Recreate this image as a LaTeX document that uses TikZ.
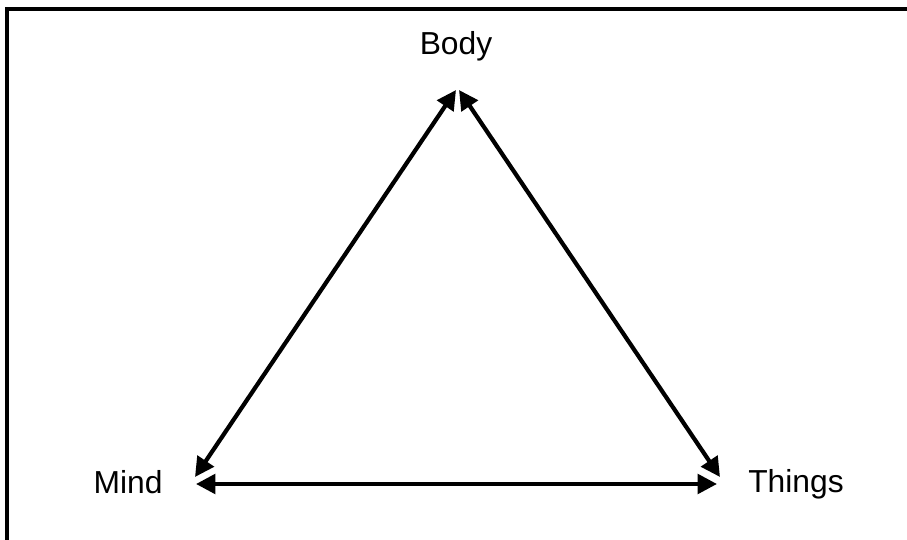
\documentclass[tikz,border=0pt]{standalone}
\usepackage{fontspec}
\setmainfont{Liberation Sans}
\usetikzlibrary{arrows.meta}

\tikzset{
    label/.style={font=\fontsize{18.1}{22}\selectfont, inner sep=0pt},
    link/.style={line width=2.4pt, {Triangle[length=11pt,width=11pt]}-{Triangle[length=11pt,width=11pt]}}
}

\begin{document}
\begin{tikzpicture}[x=0.02cm, y=-0.02cm]

\useasboundingbox (0,0) rectangle (907,540);
\clip (0,0) rectangle (907,540);

% Frame
\draw[line width=2pt] (7,560) -- (7,9) -- (930,9);

% Labels
\node[label, anchor=base] (body) at (456,55) {Body};
\node[label, anchor=base] (mind) at (128,494) {Mind};
\node[label, anchor=base] (things) at (796,493) {Things};

% Arrow ends
\coordinate (topL) at (456,90);
\coordinate (topR) at (459,90);
\coordinate (mindD) at (195,477);
\coordinate (mindH) at (196,484);
\coordinate (thingsD) at (720,477);
\coordinate (thingsH) at (717,484);

% Arrows
\draw[link] (mindD) -- (topL);
\draw[link] (topR) -- (thingsD);
\draw[link] (mindH) -- (thingsH);

\end{tikzpicture}
\end{document}
